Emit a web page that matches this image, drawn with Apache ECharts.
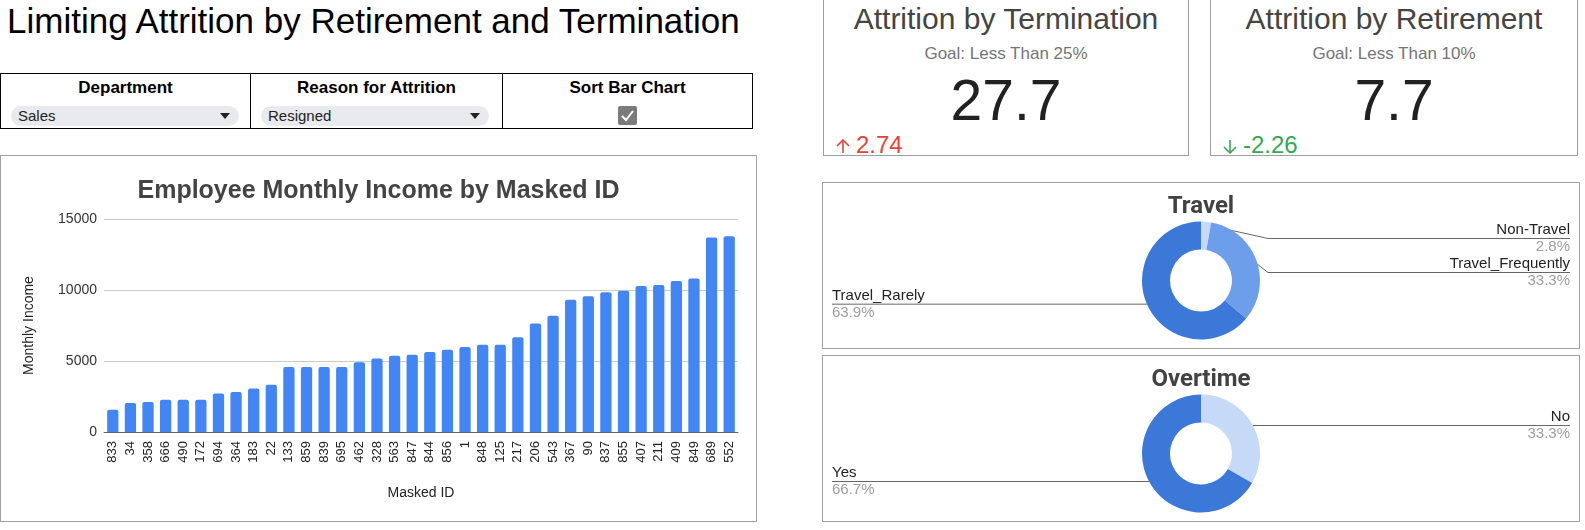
<!DOCTYPE html>
<html>
<head>
<meta charset="utf-8">
<title>Limiting Attrition by Retirement and Termination</title>
<script src="https://cdn.jsdelivr.net/npm/echarts@6/dist/echarts.min.js"></script>
<style>
  html, body { margin: 0; padding: 0; background: #fff; }
  body { width: 1585px; height: 530px; position: relative; overflow: hidden;
         font-family: 'Liberation Sans', Arial, sans-serif; }
  .abs { position: absolute; box-sizing: border-box; }

  #pageTitle { left: 7px; top: 1px; font-size: 35px; line-height: 40px; color: #000; white-space: nowrap; }

  /* filter bar */
  #controls { left: 0; top: 73px; width: 753px; height: 56px; border: 1px solid #000; display: flex; }
  .ctl { position: relative; flex: none; height: 100%; box-sizing: border-box; }
  .ctl + .ctl { border-left: 1px solid #000; }
  .ctl .head { position: absolute; left: 0; right: 0; top: 4px; text-align: center;
               font-size: 17px; line-height: 20px; font-weight: bold; color: #000; }
  .pill { position: absolute; top: 32px; left: 10px; width: 228px; height: 20px; border-radius: 10px;
          background: #e8eaed; font-size: 15px; line-height: 20px; color: #222; padding-left: 7px; box-sizing: border-box; }
  .pill::after { content: ''; position: absolute; right: 9px; top: 7px;
                 border-left: 5px solid transparent; border-right: 5px solid transparent; border-top: 6px solid #222; }
  .check { position: absolute; top: 32px; left: 50%; margin-left: -10px; width: 19px; height: 19px;
           border-radius: 2px; background: #7b7b7b; }

  /* scorecards */
  .card { top: 0; height: 156px; border: 1px solid #9e9e9e; border-top: none; }
  .card .kt { position: absolute; left: 0; right: 0; top: 2px; text-align: center; font-size: 30px; line-height: 34px; color: #444; white-space: nowrap; }
  .card .kg { position: absolute; left: 0; right: 0; top: 44px; text-align: center; font-size: 17px; line-height: 20px; color: #757575; }
  .card .kv { position: absolute; left: 0; right: 0; top: 68px; text-align: center; font-size: 57px; line-height: 64px; color: #212121; }
  .card .kd { position: absolute; left: 11px; top: 132px; font-size: 24px; line-height: 26px; white-space: nowrap; }
  .card .kd svg { display: inline-block; vertical-align: baseline; margin-right: 5px; position: relative; top: 1px; }

  .box { border: 1px solid #a0a0a0; }
</style>
</head>
<body>

<div id="pageTitle" class="abs"></div>

<div id="controls" class="abs">
  <div class="ctl" style="width:249px"><div class="head"></div><div class="pill"></div></div>
  <div class="ctl" style="width:252px"><div class="head"></div><div class="pill"></div></div>
  <div class="ctl" style="width:250px"><div class="head"></div>
    <div class="check"><svg width="19" height="19" viewBox="0 0 19 19"><polyline points="4,10 8,14 15,5" fill="none" stroke="#fff" stroke-width="2"/></svg></div>
  </div>
</div>

<div id="card0" class="abs card" style="left:823px;width:366px"><div class="kt"></div><div class="kg"></div><div class="kv"></div><div class="kd"></div></div>
<div id="card1" class="abs card" style="left:1210px;width:368px"><div class="kt"></div><div class="kg"></div><div class="kv"></div><div class="kd"></div></div>

<div id="barBox" class="abs box" style="left:0;top:155px;width:757px;height:367px"></div>
<div id="travelBox" class="abs box" style="left:822px;top:182px;width:758px;height:167px"></div>
<div id="overtimeBox" class="abs box" style="left:822px;top:355px;width:758px;height:167px"></div>

<script>
// ---- data ----
var pageTitle = 'Limiting Attrition by Retirement and Termination';
var filterNames = ['Department', 'Reason for Attrition', 'Sort Bar Chart'];
var filterValues = ['Sales', 'Resigned'];

var kpiTitles = ['Attrition by Termination', 'Attrition by Retirement'];
var kpiGoals = ['Goal: Less Than 25%', 'Goal: Less Than 10%'];
var kpiValues = ['27.7', '7.7'];
var kpiDeltas = [2.74, -2.26];

var maskedIds = ['833', '34', '358', '666', '490', '172', '694', '364', '183', '22',
                 '133', '859', '839', '695', '462', '328', '563', '847', '844', '856',
                 '1', '848', '125', '217', '206', '543', '367', '90', '837', '855',
                 '407', '211', '409', '849', '689', '552'];
var monthlyIncome = [1570, 2040, 2110, 2270, 2270, 2270, 2720, 2810, 3070, 3330,
                     4570, 4570, 4570, 4570, 4920, 5180, 5370, 5440, 5630, 5790,
                     5980, 6140, 6140, 6680, 7640, 8180, 9310, 9560, 9850, 9940,
                     10290, 10360, 10640, 10810, 13690, 13780];
var incomeTicks = [0, 5000, 10000, 15000];

var travelNames = ['Non-Travel', 'Travel_Frequently', 'Travel_Rarely'];
var travelCounts = [1, 12, 23];
var overtimeNames = ['No', 'Yes'];
var overtimeCounts = [12, 24];

// ---- text parts ----
document.getElementById('pageTitle').textContent = pageTitle;
var ctls = document.querySelectorAll('#controls .ctl');
for (var i = 0; i < ctls.length; i++) {
    ctls[i].querySelector('.head').textContent = filterNames[i];
    var pill = ctls[i].querySelector('.pill');
    if (pill) pill.textContent = filterValues[i];
}

// thin arrow like the scorecard delta icon
function arrowSvg(up, color) {
    var pts = up ? '2,7 8,1 14,7' : '2,8 8,14 14,8';
    return '<svg width="16" height="15" viewBox="0 0 16 15">' +
        '<line x1="8" y1="1" x2="8" y2="14" stroke="' + color + '" stroke-width="1.6"/>' +
        '<polyline points="' + pts + '" fill="none" stroke="' + color + '" stroke-width="1.6"/></svg>';
}

for (var k = 0; k < kpiTitles.length; k++) {
    var card = document.getElementById('card' + k);
    card.querySelector('.kt').textContent = kpiTitles[k];
    card.querySelector('.kg').textContent = kpiGoals[k];
    card.querySelector('.kv').textContent = kpiValues[k];
    var up = kpiDeltas[k] >= 0;
    var col = up ? '#ea4335' : '#34a853';
    var d = card.querySelector('.kd');
    d.innerHTML = arrowSvg(up, col) + '<span>' + kpiDeltas[k].toFixed(2) + '</span>';
    d.style.color = col;
}

var SANS = "'Liberation Sans', Arial, sans-serif";

// ---- bar chart ----
var barChart = echarts.init(document.getElementById('barBox'));
barChart.setOption({
    animation: false,
    title: {
        text: 'Employee Monthly Income by Masked ID',
        left: 'center',
        top: 18,
        textStyle: { fontFamily: SANS, fontSize: 25, fontWeight: 'bold', color: '#444' }
    },
    grid: { left: 103, right: 18, top: 63, bottom: 89, containLabel: false, outerBoundsMode: 'none' },
    xAxis: {
        type: 'category',
        data: maskedIds,
        name: 'Masked ID',
        nameLocation: 'middle',
        nameGap: 54,
        nameTextStyle: { fontFamily: SANS, fontSize: 14, color: '#222' },
        axisLine: { show: true, lineStyle: { color: '#666', width: 1 } },
        axisTick: { show: false },
        axisLabel: { interval: 0, rotate: 90, margin: 9, fontFamily: SANS, fontSize: 13, color: '#222' }
    },
    yAxis: {
        type: 'value',
        min: incomeTicks[0],
        max: incomeTicks[incomeTicks.length - 1],
        interval: incomeTicks[1] - incomeTicks[0],
        name: 'Monthly Income',
        nameLocation: 'middle',
        nameGap: 68,
        nameTextStyle: { fontFamily: SANS, fontSize: 14, color: '#222' },
        axisLine: { show: false },
        axisTick: { show: false },
        axisLabel: {
            margin: 7, fontFamily: SANS, fontSize: 14, color: '#333',
            formatter: function (v) { return String(v); }
        },
        splitLine: { lineStyle: { color: '#ccc', width: 1 } }
    },
    series: [{
        type: 'bar',
        data: monthlyIncome,
        barCategoryGap: '36%',
        itemStyle: { color: '#4285f4', borderRadius: [2, 2, 0, 0] }
    }]
});

// ---- donuts ----
var PIE_CY = 97.5, PIE_R = 59, PIE_IN = 31, DOT_R = 56, LINE_H = 17, EDGE = 9;

// google-style labels: line starts inside the slice, name above the line, percent below
function makeLabelLayout(chart) {
    var lastY = {};
    return function (params) {
        var w = chart.getWidth();
        var cx = w / 2, cy = PIE_CY;
        var p = params.labelLinePoints;
        if (!p) return {};
        var s = DOT_R / PIE_R;
        var dot = [cx + (p[0][0] - cx) * s, cy + (p[0][1] - cy) * s];
        var right = params.labelRect.x + params.labelRect.width / 2 > cx;
        var side = right ? 'r' : 'l';
        if (params.dataIndex === 0) lastY = {};
        var y = Math.max(dot[1], cy - PIE_R + LINE_H);
        if (lastY[side] != null) y = Math.max(y, lastY[side] + 2 * LINE_H);
        lastY[side] = y;
        var bendX = right ? cx + PIE_R + 8 : cx - PIE_R - 8;
        var endX = right ? w - EDGE : EDGE;
        return {
            y: y,
            verticalAlign: 'middle',
            align: right ? 'right' : 'left',
            labelLinePoints: [dot, [bendX, y], [endX, y]]
        };
    };
}

function donut(el, title, names, counts, colors) {
    var chart = echarts.init(el);
    var data = names.map(function (n, i) { return { name: n, value: counts[i] }; });
    chart.setOption({
        animation: false,
        title: {
            text: title,
            left: 'center',
            top: 7,
            textStyle: { fontFamily: 'Roboto', fontSize: 24, fontWeight: 'bold', color: '#424242' }
        },
        color: colors,
        series: [{
            type: 'pie',
            center: ['50%', PIE_CY],
            radius: [PIE_IN, PIE_R],
            startAngle: 90,
            clockwise: true,
            percentPrecision: 1,
            avoidLabelOverlap: false,
            itemStyle: { borderWidth: 0 },
            emphasis: { disabled: true },
            label: {
                show: true,
                position: 'outside',
                alignTo: 'edge',
                edgeDistance: EDGE,
                formatter: '{n|{b}}\n{p|{d}%}',
                rich: {
                    n: { fontFamily: SANS, fontSize: 15, lineHeight: LINE_H, color: '#222' },
                    p: { fontFamily: SANS, fontSize: 15, lineHeight: LINE_H, color: '#9e9e9e' }
                }
            },
            labelLine: { show: true, length: 4, length2: 8, smooth: false, lineStyle: { color: '#666', width: 1 } },
            labelLayout: makeLabelLayout(chart),
            data: data
        }]
    });
    return chart;
}

donut(document.getElementById('travelBox'), 'Travel', travelNames, travelCounts, ['#c6d9f7', '#6d9eeb', '#3c78d8']);
donut(document.getElementById('overtimeBox'), 'Overtime', overtimeNames, overtimeCounts, ['#c6d9f7', '#3c78d8']);
</script>
</body>
</html>
